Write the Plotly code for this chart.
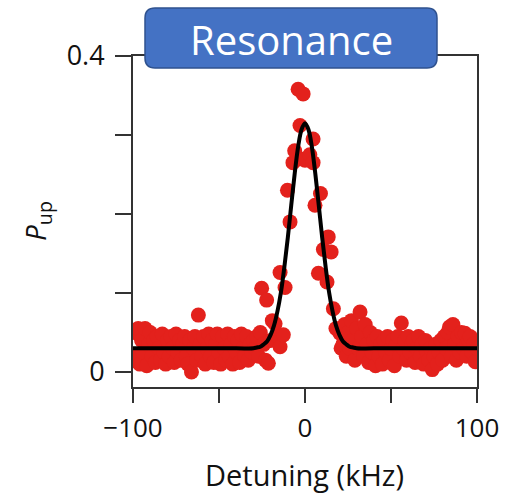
import plotly.graph_objects as go

# ---- data: measured points (detuning kHz, P_up) ----
left_x = [-99, -98, -97, -96, -95, -94, -93, -92, -91, -90, -89, -88, -87, -86, -85, -84,
          -83, -82, -81, -80, -79, -78, -77, -76, -75, -74, -73, -72, -71, -70, -69, -68,
          -67, -66, -65, -64, -63, -62, -61, -60, -59, -58, -57, -56, -55, -54, -53, -52,
          -51, -50, -49, -48, -47, -46, -45, -44, -43, -42, -41, -40, -39, -38, -37, -36,
          -35, -34, -33, -32, -31, -30]
left_y = [0.050, 0.020, 0.055, 0.010, 0.040, 0.025, 0.055, 0.008, 0.035, 0.050, 0.020, 0.040,
          0.012, 0.045, 0.030, 0.015, 0.048, 0.025, 0.010, 0.040, 0.020, 0.045, 0.030, 0.012,
          0.048, 0.025, 0.040, 0.015, 0.035, 0.045, 0.020, 0.010, 0.040, 0.000, 0.030, 0.045,
          0.015, 0.072, 0.035, 0.020, 0.045, 0.010, 0.030, 0.048, 0.020, 0.040, 0.012, 0.035,
          0.048, 0.025, 0.010, 0.045, 0.030, 0.015, 0.048, 0.020, 0.035, 0.010, 0.045, 0.025,
          0.040, 0.012, 0.048, 0.030, 0.020, 0.045, 0.015, 0.035, 0.025, 0.040]

peak_x = [-29, -28, -27, -26, -25.2, -24, -23, -22.3, -21.3, -20, -19, -17.4, -16, -14.5,
          -14.5, -12.6, -11.6, -10.2, -8.7, -7.0, -6.0, -4.0, -2.9, -1.1, -3.0, 0.0, 2.8,
          4.7, 4.7, 5.8, 7.8, 9.0, 10.7, 12.8, 13.5, 15.2, 16.5, 18.0, 20.3, 21.0]
peak_y = [0.030, 0.045, 0.020, 0.050, 0.106, 0.035, 0.015, 0.091, 0.011, 0.040, 0.065, 0.061,
          0.045, 0.032, 0.126, 0.047, 0.107, 0.230, 0.190, 0.265, 0.280, 0.358, 0.312, 0.352,
          0.270, 0.268, 0.275, 0.295, 0.265, 0.211, 0.125, 0.226, 0.155, 0.114, 0.171, 0.152,
          0.080, 0.055, 0.049, 0.030]

right_x = [22, 23, 24, 25, 26, 27, 28, 29, 30, 31, 32, 33, 34, 35, 36, 37, 38, 39, 40, 41,
           42, 43, 44, 45, 46, 47, 48, 49, 50, 51, 52, 53, 54, 55, 56, 57, 58, 59, 60, 61,
           62, 63, 64, 65, 66, 67, 68, 69, 70, 71, 72, 73, 74, 75, 76, 77, 78, 79, 80, 81,
           82, 83, 84, 85, 86, 87, 88, 89, 90, 91, 92, 93, 94, 95, 96, 97, 98, 99, 100]
right_y = [0.035, 0.060, 0.020, 0.050, 0.030, 0.065, 0.040, 0.015, 0.055, 0.030, 0.076, 0.045,
           0.020, 0.060, 0.035, 0.012, 0.050, 0.025, 0.040, 0.008, 0.045, 0.020, 0.035, 0.010,
           0.040, 0.025, 0.045, 0.015, 0.030, 0.040, 0.008, 0.035, 0.045, 0.020, 0.062, 0.030,
           0.040, 0.015, 0.045, 0.025, 0.035, 0.040, 0.012, 0.030, 0.045, 0.020, 0.035, 0.010,
           0.040, 0.025, 0.015, 0.030, 0.003, 0.020, 0.035, 0.010, 0.025, 0.040, 0.015, 0.045,
           0.030, 0.050, 0.057, 0.020, 0.060, 0.035, 0.015, 0.045, 0.025, 0.050, 0.030, 0.049,
           0.020, 0.040, 0.045, 0.025, 0.035, 0.013, 0.030]

# ---- fit curve ----
fit_x = [-100, -40, -30, -28, -26, -24, -22, -20, -18, -16, -14, -12, -10, -8, -6, -4, -2, 0,
         2, 4, 6, 8, 10, 12, 14, 16, 18, 20, 22, 24, 26, 28, 30, 40, 100]
fit_y = [0.030, 0.030, 0.030, 0.031, 0.032, 0.035, 0.039, 0.047, 0.059, 0.077, 0.101, 0.133,
         0.170, 0.211, 0.251, 0.285, 0.307, 0.315, 0.307, 0.285, 0.251, 0.211, 0.170, 0.133,
         0.101, 0.077, 0.059, 0.047, 0.039, 0.035, 0.032, 0.031, 0.030, 0.030, 0.030]

x_tickvals = [-100, -50, 0, 50, 100]
x_ticktext = ["\u2212100", "", "0", "", "100"]
y_tickvals = [0, 0.1, 0.2, 0.3, 0.4]
y_ticktext = ["0", "", "", "", "0.4"]

FONT = "Open Sans"
RED = "#E3211C"
AXIS = "#333333"

fig = go.Figure()
fig.add_trace(go.Scatter(
    x=left_x + peak_x + right_x, y=left_y + peak_y + right_y,
    mode="markers", marker=dict(size=15, color=RED, line=dict(width=0)),
    showlegend=False, hoverinfo="skip"))
fig.add_trace(go.Scatter(
    x=fit_x, y=fit_y, mode="lines", line=dict(color="black", width=4, shape="spline"),
    showlegend=False, hoverinfo="skip"))

W, H = 344, 331  # plot area in px
def px(xp):
    return (xp - 133) / W
def py(yp):
    return (387 - yp) / H

x0, x1 = px(145), px(437)
yt, yb = py(8), py(68)
rx, ry = 10 / W, 10 / H
path = (f"M {x0+rx},{yb} L {x1-rx},{yb} Q {x1},{yb} {x1},{yb+ry} "
        f"L {x1},{yt-ry} Q {x1},{yt} {x1-rx},{yt} L {x0+rx},{yt} "
        f"Q {x0},{yt} {x0},{yt-ry} L {x0},{yb+ry} Q {x0},{yb} {x0+rx},{yb} Z")

fig.update_layout(
    width=505, height=494,
    margin=dict(l=133, r=28, t=56, b=107, autoexpand=False),
    paper_bgcolor="white", plot_bgcolor="white",
    font=dict(family=FONT, color="#111111"),
    xaxis=dict(range=[-100, 100], tickvals=x_tickvals, ticktext=x_ticktext,
               ticks="outside", ticklen=14, tickwidth=2, tickcolor=AXIS,
               showline=True, linecolor=AXIS, linewidth=2, mirror=True, automargin=False,
               showgrid=False, zeroline=False, tickfont=dict(size=26, family=FONT),
               ticklabelstandoff=3),
    yaxis=dict(range=[-0.019, 0.4], tickvals=y_tickvals, ticktext=y_ticktext,
               ticks="outside", ticklen=16, tickwidth=2, tickcolor=AXIS,
               showline=True, linecolor=AXIS, linewidth=2, mirror=True, automargin=False,
               showgrid=False, zeroline=False, tickfont=dict(size=27, family=FONT),
               ticklabelstandoff=5),
    shapes=[dict(type="path", path=path, xref="paper", yref="paper",
                 fillcolor="#4472C4", line=dict(color="#2F528F", width=1.5), layer="above")],
    annotations=[
        dict(text="Resonance", x=px(291), y=py(39), xref="paper", yref="paper",
             showarrow=False, xanchor="center", yanchor="middle",
             font=dict(size=40, color="white", family=FONT)),
        dict(text="Detuning (kHz)", x=px(304), y=py(474), xref="paper", yref="paper",
             showarrow=False, xanchor="center", yanchor="middle",
             font=dict(size=29, family=FONT, color="#111111")),
        dict(text="<i>P</i><sub>up</sub>", x=px(37), y=py(221), xref="paper", yref="paper",
             showarrow=False, xanchor="center", yanchor="middle", textangle=-90,
             font=dict(size=28, family=FONT, color="#111111")),
    ],
)

fig.write_html("out.html", config={"displayModeBar": False},
               post_script="document.body.style.margin='0';document.body.style.overflow='hidden';")
